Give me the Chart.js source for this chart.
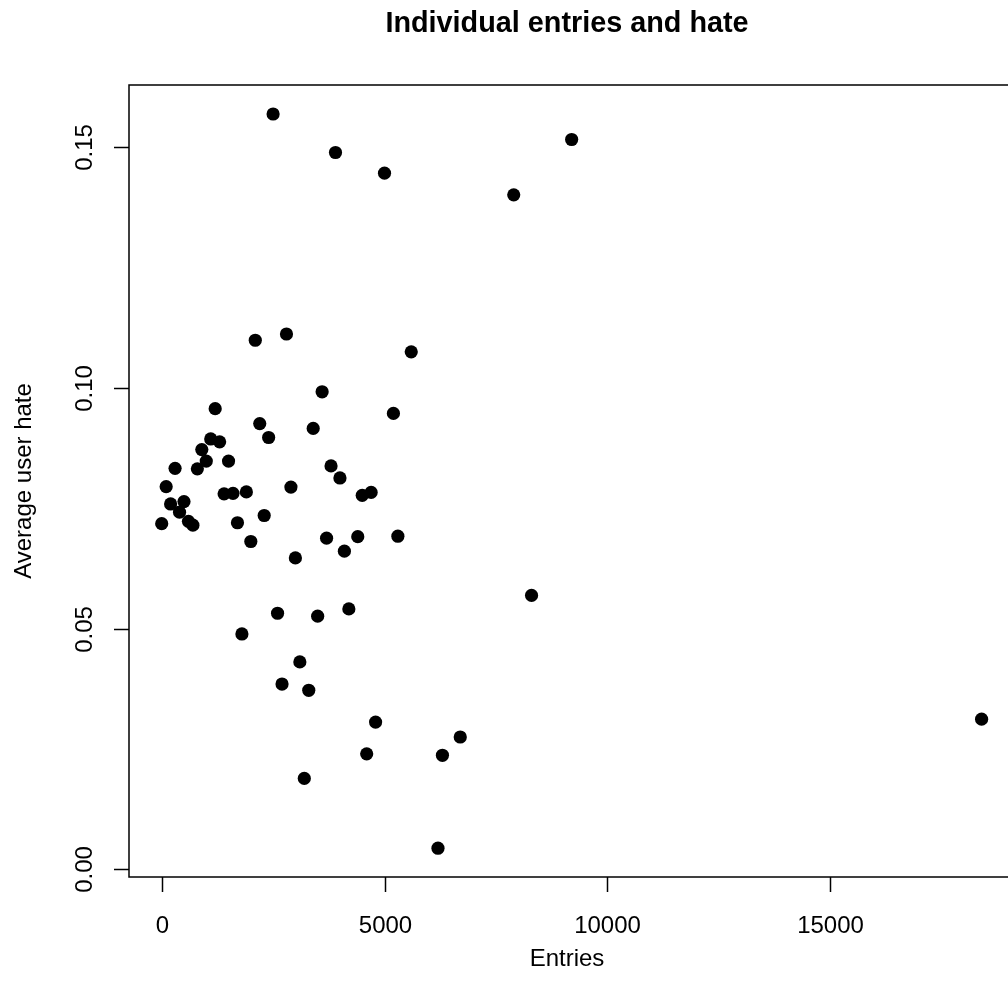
<!DOCTYPE html>
<html>
<head>
<meta charset="utf-8">
<title>Individual entries and hate</title>
<script src="https://cdn.jsdelivr.net/npm/chart.js@4/dist/chart.umd.min.js"></script>
<style>
  html, body { margin: 0; padding: 0; background: #fff; overflow: hidden; }
  #wrap { width: 1016px; height: 1002px; position: relative; }
</style>
</head>
<body>
<div id="wrap"><canvas id="hate-chart"></canvas></div>
<script>
// data
var entries = [0, 100, 200, 300, 400, 500, 600, 700, 800, 900,
    1000, 1100, 1200, 1300, 1400, 1500, 1600, 1700, 1800, 1900,
    2000, 2100, 2200, 2300, 2400, 2500, 2600, 2700, 2800, 2900,
    3000, 3100, 3200, 3300, 3400, 3500, 3600, 3700, 3800, 3900,
    4000, 4100, 4200, 4400, 4500, 4600, 4700, 4800, 5000, 5200,
    5300, 5600, 6200, 6300, 6700, 7900, 8300, 9200, 18400];
var avgHate = [0.0718, 0.0795, 0.0759, 0.0833, 0.0742, 0.0764, 0.0723, 0.0715, 0.0832, 0.0872,
    0.0848, 0.0894, 0.0957, 0.0888, 0.0780, 0.0848, 0.0781, 0.0720, 0.0489, 0.0784,
    0.0681, 0.1099, 0.0926, 0.0735, 0.0897, 0.1569, 0.0532, 0.0385, 0.1112, 0.0794,
    0.0647, 0.0431, 0.0189, 0.0372, 0.0916, 0.0526, 0.0992, 0.0688, 0.0838, 0.1489,
    0.0813, 0.0661, 0.0541, 0.0691, 0.0777, 0.0240, 0.0783, 0.0306, 0.1446, 0.0947,
    0.0692, 0.1075, 0.0044, 0.0237, 0.0275, 0.1401, 0.0569, 0.1516, 0.0312];

var xTicks = [0, 5000, 10000, 15000];
var xTickLabels = ['0', '5000', '10000', '15000'];
var yTicks = [0, 0.05, 0.10, 0.15];
var yTickLabels = ['0.00', '0.05', '0.10', '0.15'];

var chartTitle = 'Individual entries and hate';
var xTitle = 'Entries';
var yTitle = 'Average user hate';

var points = entries.map(function (x, i) {
    return { x: x, y: avgHate[i] };
});

// R style box, ticks and labels
var rAxes = {
    id: 'rAxes',
    afterDraw: function (chart) {
        var ctx = chart.ctx;
        var area = chart.chartArea;
        var xs = chart.scales.x;
        var ys = chart.scales.y;
        var tickLen = 15;
        var font = '24px "Liberation Sans", Arial, Helvetica, sans-serif';
        var cx = (area.left + area.right) / 2 - 2;
        var cy = (area.top + area.bottom) / 2;

        ctx.save();
        ctx.strokeStyle = '#000';
        ctx.fillStyle = '#000';
        ctx.lineWidth = 1.5;
        ctx.strokeRect(area.left, area.top, area.right - area.left, area.bottom - area.top);

        ctx.font = font;
        ctx.textAlign = 'center';
        ctx.textBaseline = 'alphabetic';
        xTicks.forEach(function (v, i) {
            var px = Math.round(xs.getPixelForValue(v)) + 0.5;
            ctx.beginPath();
            ctx.moveTo(px, area.bottom);
            ctx.lineTo(px, area.bottom + tickLen);
            ctx.stroke();
            ctx.fillText(xTickLabels[i], px, 933);
        });

        yTicks.forEach(function (v, i) {
            var py = Math.round(ys.getPixelForValue(v)) + 0.5;
            ctx.beginPath();
            ctx.moveTo(area.left, py);
            ctx.lineTo(area.left - tickLen, py);
            ctx.stroke();
            ctx.save();
            ctx.translate(92, py);
            ctx.rotate(-Math.PI / 2);
            ctx.fillText(yTickLabels[i], 0, 0);
            ctx.restore();
        });

        ctx.fillText(xTitle, cx, 966);

        ctx.save();
        ctx.translate(31, cy);
        ctx.rotate(-Math.PI / 2);
        ctx.fillText(yTitle, 0, 0);
        ctx.restore();

        ctx.font = 'bold 28.8px "Liberation Sans", Arial, Helvetica, sans-serif';
        ctx.fillText(chartTitle, cx, 32);
        ctx.restore();
    }
};

var ctx = document.getElementById('hate-chart').getContext('2d');

var hateChart = new Chart(ctx, {
    type: 'scatter',
    data: {
        datasets: [{
            label: yTitle,
            data: points,
            pointRadius: 6.6,
            pointHoverRadius: 6.6,
            pointBackgroundColor: '#000',
            pointBorderWidth: 0,
            borderWidth: 0
        }]
    },
    options: {
        responsive: true,
        maintainAspectRatio: false,
        animation: false,
        devicePixelRatio: 1,
        layout: {
            padding: { left: 129, top: 85, right: 7, bottom: 125 }
        },
        plugins: {
            legend: { display: false },
            tooltip: { enabled: false }
        },
        scales: {
            x: { type: 'linear', min: -734, max: 19015, display: false },
            y: { type: 'linear', min: -0.00158, max: 0.16292, display: false }
        }
    },
    plugins: [rAxes]
});
</script>
</body>
</html>
